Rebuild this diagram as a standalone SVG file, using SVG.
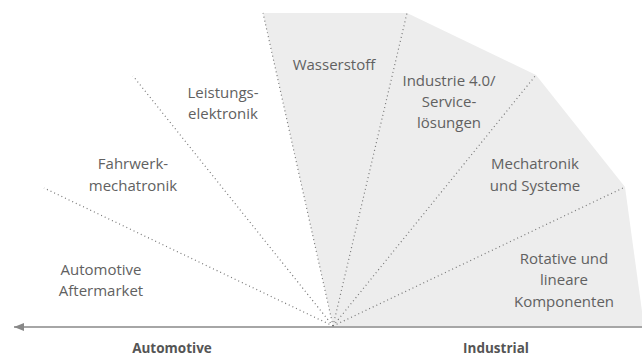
<svg xmlns="http://www.w3.org/2000/svg" width="642" height="356" viewBox="0 0 642 356">
<style>
.lbl{font-family:"Open Sans","Noto Sans",sans-serif;font-size:15px;fill:#616161;text-anchor:middle}
.axis{font-family:"Open Sans","Noto Sans",sans-serif;font-size:13.5px;font-weight:bold;fill:#555;text-anchor:middle}
.dot{stroke:#777;stroke-width:1.2;stroke-dasharray:1 3;fill:none}
</style>
<defs>
<marker id="ah" markerWidth="12" markerHeight="10" refX="10" refY="4.5" orient="auto" markerUnits="userSpaceOnUse">
<path d="M0,0.5 L10,4.5 L0,8.5 Z" fill="#888"/>
</marker>
</defs>
<polygon id="industrial-area" points="333,326 263,13 407,13 536,75 625,187 644,326" fill="#ededed"/>
<g id="connectors">
<line class="dot" x1="333" y1="326" x2="44" y2="188"/>
<line class="dot" x1="333" y1="326" x2="133" y2="76"/>
<line class="dot" x1="333" y1="326" x2="263" y2="13"/>
<line class="dot" x1="333" y1="326" x2="407" y2="13"/>
<line class="dot" x1="333" y1="326" x2="536" y2="75"/>
<line class="dot" x1="333" y1="326" x2="625" y2="187"/>
<line x1="642" y1="327" x2="14" y2="327" stroke="#888" stroke-width="1.6" marker-end="url(#ah)"/>
</g>
<g id="automotive-aftermarket"><text class="lbl" x="101" y="275">Automotive</text><text class="lbl" x="101" y="296">Aftermarket</text></g>
<g id="fahrwerk"><text class="lbl" x="133" y="169">Fahrwerk-</text><text class="lbl" x="133" y="191">mechatronik</text></g>
<g id="leistungselektronik"><text class="lbl" x="223" y="98">Leistungs-</text><text class="lbl" x="223" y="119">elektronik</text></g>
<g id="wasserstoff"><text class="lbl" x="334" y="70">Wasserstoff</text></g>
<g id="industrie40"><text class="lbl" x="449" y="86">Industrie 4.0/</text><text class="lbl" x="449" y="107">Service-</text><text class="lbl" x="449" y="128">lösungen</text></g>
<g id="mechatronik"><text class="lbl" x="535" y="169">Mechatronik</text><text class="lbl" x="535" y="191">und Systeme</text></g>
<g id="rotative"><text class="lbl" x="564" y="264">Rotative und</text><text class="lbl" x="564" y="285">lineare</text><text class="lbl" x="564" y="307">Komponenten</text></g>
<g id="axis-labels"><text class="axis" x="172" y="353">Automotive</text><text class="axis" x="496" y="353">Industrial</text></g>
</svg>
